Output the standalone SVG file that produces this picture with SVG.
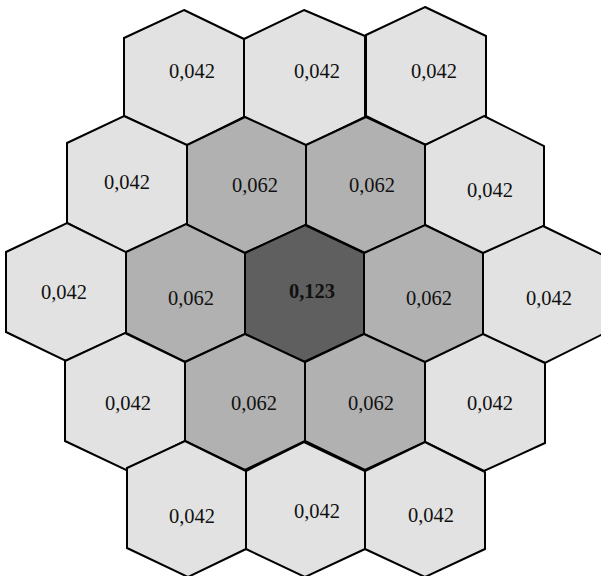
<svg xmlns="http://www.w3.org/2000/svg" width="601" height="576" viewBox="0 0 601 576">
<style>
polygon{stroke:#000;stroke-width:2;stroke-linejoin:miter}
.l{fill:#e2e2e2}
.m{fill:#b1b1b1}
.d{fill:#5f5f5f}
text{font-family:"Liberation Serif","Times New Roman",serif;font-size:20.5px;fill:#111;text-anchor:middle}
.b{font-weight:bold}
</style>
<rect width="601" height="576" fill="#fff"/>
<g id="A1"><polygon class="l" points="184,10 244,39 244,117 186,146 124,116 124,38"/><text x="192" y="78">0,042</text></g>
<g id="A2"><polygon class="l" points="304,10 365,36 365,117 305,146 244,117 244,39"/><text x="317" y="78">0,042</text></g>
<g id="A3"><polygon class="l" points="425,7 486,36 486,117 425,145 366,116 366,35"/><text x="434" y="78">0,042</text></g>
<g id="B1"><polygon class="l" points="124,116 187,145 187,224 126,253 67,223 67,143"/><text x="127" y="189">0,042</text></g>
<g id="B2"><polygon class="m" points="245,117 306,145 306,225 245,253 187,225 187,145"/><text x="255" y="192">0,062</text></g>
<g id="B3"><polygon class="m" points="366,117 426,145 426,225 365,253 306,225 306,145"/><text x="372" y="192">0,062</text></g>
<g id="B4"><polygon class="l" points="484,116 544,146 544,226 483,254 425,225 425,145"/><text x="490" y="197">0,042</text></g>
<g id="C1"><polygon class="l" points="67,223 126,252 126,333 66,361 6,332 6,252"/><text x="64" y="299">0,042</text></g>
<g id="C2"><polygon class="m" points="186,224 245,253 245,334 185,362 126,333 126,252"/><text x="191" y="305">0,062</text></g>
<g id="C3"><polygon class="d" points="305,225 364,253 364,334 304,362 245,334 245,253"/><text class="b" x="312" y="298">0,123</text></g>
<g id="C4"><polygon class="m" points="425,225 483,253 483,335 425,363 364,334 364,253"/><text x="429" y="305">0,062</text></g>
<g id="C5"><polygon class="l" points="543,226 603,255 603,334 545,363 483,335 483,253"/><text x="549" y="305">0,042</text></g>
<g id="D1"><polygon class="l" points="125,333 185,362 185,441 126,470 65,441 65,361"/><text x="128" y="410">0,042</text></g>
<g id="D2"><polygon class="m" points="245,334 305,362 305,441 245,470 185,441 185,362"/><text x="254" y="410">0,062</text></g>
<g id="D3"><polygon class="m" points="364,334 425,362 425,442 365,470 305,441 305,362"/><text x="371" y="410">0,062</text></g>
<g id="D4"><polygon class="l" points="483,334 545,363 545,443 484,471 425,442 425,362"/><text x="490" y="410">0,042</text></g>
<g id="E1"><polygon class="l" points="185,441 246,471 246,549 188,577 127,548 127,468"/><text x="192" y="523">0,042</text></g>
<g id="E2"><polygon class="l" points="304,442 365,471 365,549 305,577 246,549 246,471"/><text x="317" y="518">0,042</text></g>
<g id="E3"><polygon class="l" points="425,442 485,472 485,549 425,577 365,549 365,471"/><text x="431" y="522">0,042</text></g>
</svg>
